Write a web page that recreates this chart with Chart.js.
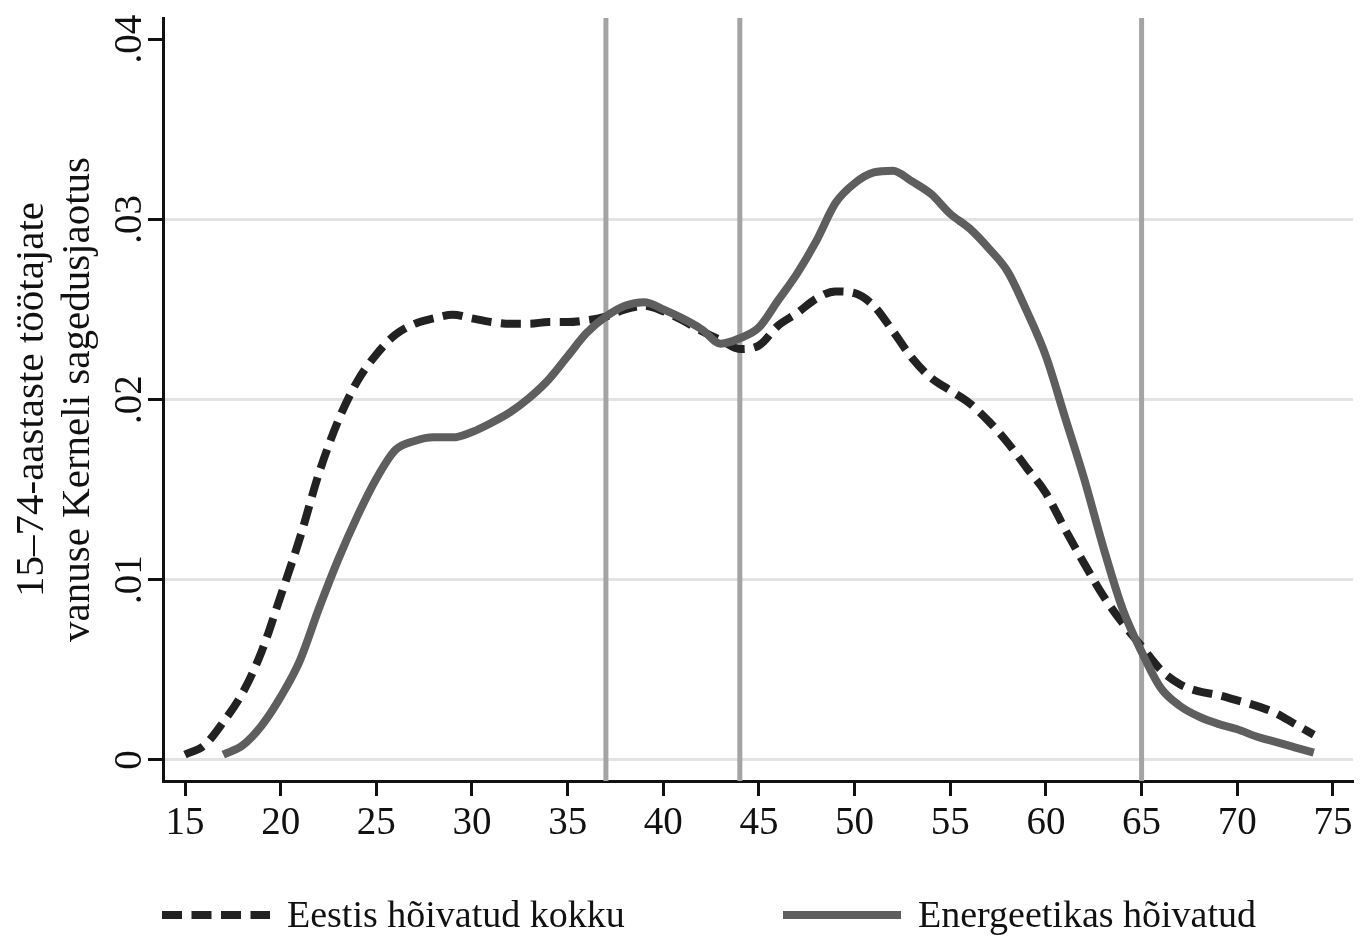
<!DOCTYPE html>
<html>
<head>
<meta charset="utf-8">
<title>Kerneli sagedusjaotus</title>
<script src="https://cdn.jsdelivr.net/npm/chart.js@4.4.1/dist/chart.umd.min.js"></script>
<style>
    html, body { margin: 0; padding: 0; background: #fff; }
</style>
</head>
<body>
<canvas id="density" width="1360" height="944"></canvas>
<script>
(function () {
    "use strict";

    // Data
    var totalAges = [15, 16, 17, 18, 19, 20, 21, 22, 23, 24, 25, 26, 27, 28, 29, 30, 31, 32, 33, 34,
        35, 36, 37, 38, 39, 40, 41, 42, 43, 44, 45, 46, 47, 48, 49, 50, 51, 52, 53, 54,
        55, 56, 57, 58, 59, 60, 61, 62, 63, 64, 65, 66, 67, 68, 69, 70, 71, 72, 73, 74];
    var totalDensity = [0.0003, 0.0008, 0.0021, 0.0037, 0.0060, 0.0091, 0.0123, 0.0159, 0.0188, 0.0210,
        0.0225, 0.0236, 0.0242, 0.0245, 0.0247, 0.0245, 0.0243, 0.0242, 0.0242, 0.0243,
        0.0243, 0.0244, 0.0246, 0.0250, 0.0252, 0.0249, 0.0244, 0.0238, 0.0233, 0.0228,
        0.0230, 0.0241, 0.0248, 0.0256, 0.0260, 0.0259, 0.0252, 0.0238, 0.0223, 0.0212,
        0.0205, 0.0198, 0.0188, 0.0176, 0.0162, 0.0148, 0.0128, 0.0109, 0.0091, 0.0076,
        0.0063, 0.0050, 0.0042, 0.0038, 0.0036, 0.0033, 0.0030, 0.0026, 0.0020, 0.0014];

    var energyAges = [17, 18, 19, 20, 21, 22, 23, 24, 25, 26, 27, 28, 29, 30, 31, 32, 33, 34,
        35, 36, 37, 38, 39, 40, 41, 42, 43, 44, 45, 46, 47, 48, 49, 50, 51, 52, 53, 54,
        55, 56, 57, 58, 59, 60, 61, 62, 63, 64, 65, 66, 67, 68, 69, 70, 71, 72, 73, 74];
    var energyDensity = [0.0003, 0.0008, 0.0019, 0.0035, 0.0055, 0.0084, 0.0111, 0.0135, 0.0156, 0.0172,
        0.0177, 0.0179, 0.0179, 0.0182, 0.0187, 0.0193, 0.0201, 0.0211, 0.0224, 0.0237,
        0.0246, 0.0252, 0.0254, 0.0250, 0.0245, 0.0239, 0.0231, 0.0234, 0.0240, 0.0255,
        0.0270, 0.0288, 0.0309, 0.0320, 0.0326, 0.0327, 0.0321, 0.0314, 0.0303, 0.0295,
        0.0284, 0.0271, 0.0249, 0.0224, 0.0190, 0.0156, 0.0118, 0.0084, 0.0060, 0.0040,
        0.0030, 0.0024, 0.0020, 0.0017, 0.0013, 0.0010, 0.0007, 0.0004];

    var seriesLabels = ["Eestis hõivatud kokku", "Energeetikas hõivatud"];
    var xTickValues = [15, 20, 25, 30, 35, 40, 45, 50, 55, 60, 65, 70, 75];
    var yTickValues = [0, 0.01, 0.02, 0.03, 0.04];
    var refAges = [37, 44, 65];
    var yTitle = ["15–74-aastaste töötajate", "vanuse Kerneli sagedusjaotus"];

    var FONT = "Liberation Serif";

    function toPoints(xs, ys) {
        return xs.map(function (x, i) { return { x: x, y: ys[i] }; });
    }

    // Vertical reference lines
    var refLinesPlugin = {
        id: "refLines",
        beforeDatasetsDraw: function (chart) {
            var ctx = chart.ctx, area = chart.chartArea, xs = chart.scales.x;
            ctx.save();
            ctx.strokeStyle = "#a4a4a4";
            ctx.lineWidth = 5;
            refAges.forEach(function (a) {
                var px = xs.getPixelForValue(a);
                ctx.beginPath();
                ctx.moveTo(px, area.top);
                ctx.lineTo(px, area.bottom);
                ctx.stroke();
            });
            ctx.restore();
        }
    };

    // Legend below the chart, two columns like the original
    var bottomLegendPlugin = {
        id: "bottomLegend",
        afterDraw: function (chart) {
            var ctx = chart.ctx;
            var y = chart.height - 29;
            var starts = [chart.chartArea.left - 1, chart.width / 2 + 103];
            var widths = [108, 118];
            chart.data.datasets.forEach(function (ds, i) {
                var x = starts[i];
                ctx.save();
                ctx.strokeStyle = ds.borderColor;
                ctx.lineWidth = 8;
                ctx.lineCap = "butt";
                ctx.setLineDash(ds.borderDash || []);
                ctx.beginPath();
                ctx.moveTo(x, y);
                ctx.lineTo(x + widths[i], y);
                ctx.stroke();
                ctx.setLineDash([]);
                ctx.fillStyle = "#111";
                ctx.font = "38px '" + FONT + "'";
                ctx.textBaseline = "middle";
                ctx.fillText(ds.label, x + widths[i] + 17, y + 2);
                ctx.restore();
            });
        }
    };

    var ctx1 = document.getElementById("density").getContext("2d");
    var myChart1 = new Chart(ctx1, {
        type: "line",
        data: {
            datasets: [{
                    label: seriesLabels[0],
                    data: toPoints(totalAges, totalDensity),
                    borderColor: "#222222",
                    borderWidth: 8,
                    borderDash: [20, 9.5],
                    borderCapStyle: "butt",
                    pointRadius: 0,
                    cubicInterpolationMode: "monotone",
                    fill: false,
                    order: 1
                },
                {
                    label: seriesLabels[1],
                    data: toPoints(energyAges, energyDensity),
                    borderColor: "#5e5e5e",
                    borderWidth: 8,
                    pointRadius: 0,
                    cubicInterpolationMode: "monotone",
                    fill: false,
                    order: 0
                }
            ]
        },
        options: {
            responsive: false,
            animation: false,
            layout: { padding: { top: 18, right: 7, bottom: 103, left: 0 } },
            plugins: {
                legend: { display: false },
                tooltip: { enabled: false }
            },
            scales: {
                x: {
                    type: "linear",
                    min: 13.85,
                    max: 76.05,
                    afterBuildTicks: function (axis) {
                        axis.ticks = xTickValues.map(function (v) { return { value: v }; });
                    },
                    afterFit: function (axis) { axis.height = 60; },
                    grid: {
                        drawOnChartArea: false,
                        tickLength: 15,
                        tickWidth: 3,
                        tickColor: "#111"
                    },
                    border: { display: true, color: "#111", width: 3 },
                    ticks: {
                        font: { family: FONT, size: 39 },
                        color: "#111",
                        padding: 4,
                        maxRotation: 0,
                        autoSkip: false
                    }
                },
                y: {
                    type: "linear",
                    min: -0.00117,
                    max: 0.04117,
                    afterBuildTicks: function (axis) {
                        axis.ticks = yTickValues.map(function (v) { return { value: v }; });
                    },
                    afterFit: function (axis) { axis.width = 163; },
                    grid: {
                        color: function (c) {
                            return (c.tick && c.tick.value === yTickValues[yTickValues.length - 1]) ? "rgba(0,0,0,0)" : "#e3e3e3";
                        },
                        lineWidth: 3,
                        tickLength: 15,
                        tickWidth: 3,
                        tickColor: "#111"
                    },
                    border: { display: true, color: "#111", width: 3 },
                    ticks: {
                        font: { family: FONT, size: 39 },
                        color: "#111",
                        minRotation: 90,
                        maxRotation: 90,
                        crossAlign: "center",
                        padding: -7,
                        autoSkip: false,
                        callback: function (v) {
                            return v === 0 ? "0" : String(v).replace(/^0/, "");
                        }
                    },
                    title: {
                        display: true,
                        text: yTitle,
                        color: "#111",
                        font: { family: FONT, size: 41, lineHeight: 1.12 },
                        padding: { top: 9, bottom: 0 }
                    }
                }
            }
        },
        plugins: [refLinesPlugin, bottomLegendPlugin]
    });
})();
</script>
</body>
</html>
